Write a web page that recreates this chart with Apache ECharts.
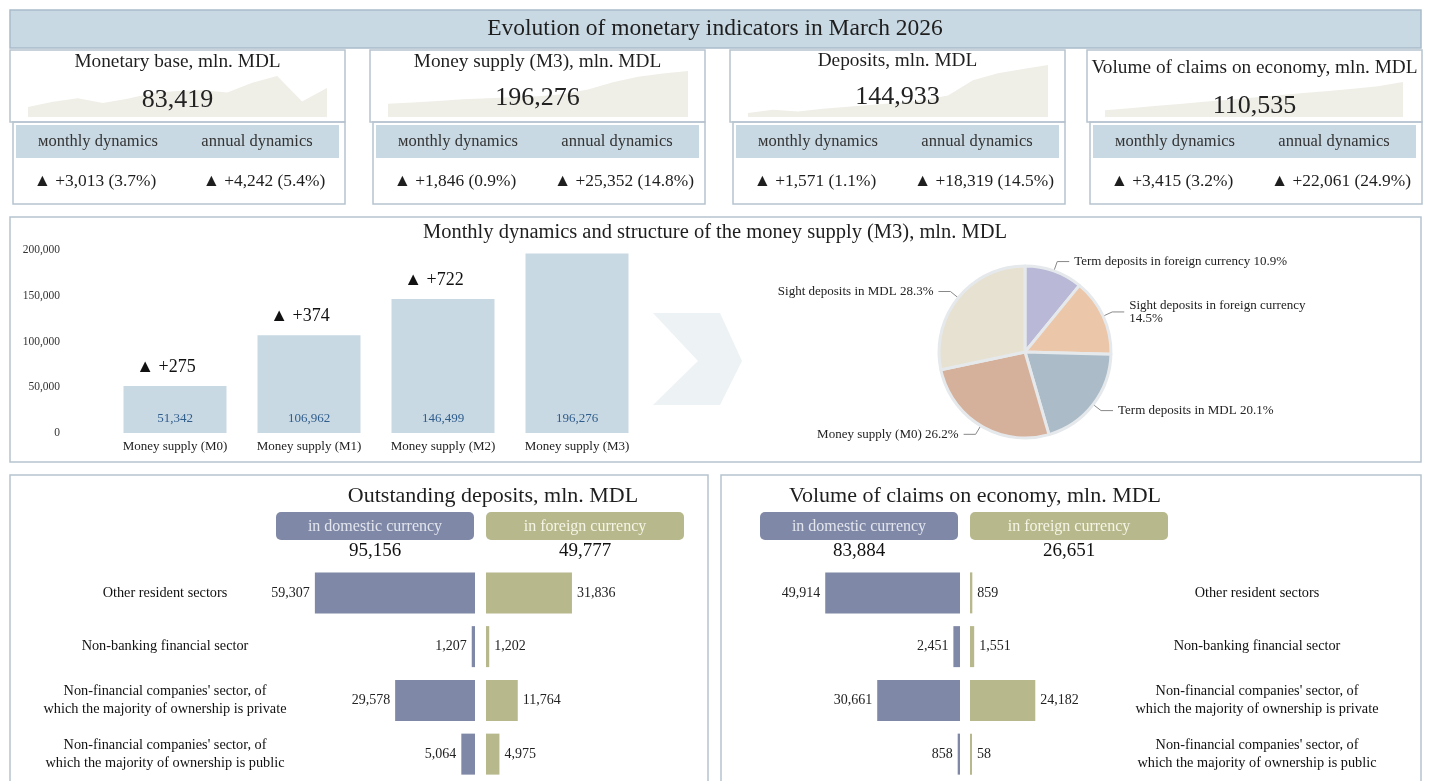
<!DOCTYPE html>
<html><head><meta charset="utf-8">
<script src="https://cdn.jsdelivr.net/npm/echarts@6/dist/echarts.min.js"></script>
<style>html,body{margin:0;padding:0;background:#fff}#c{width:1431px;height:781px}</style>
</head><body><div id="c"></div>
<script>
// ---------------- DATA ----------------
const mainTitle = 'Evolution of monetary indicators in March 2026';
const cardTitles = ['Monetary base, mln. MDL', 'Money supply (M3), mln. MDL', 'Deposits, mln. MDL', 'Volume of claims on economy, mln. MDL'];
const cardValues = [83419, 196276, 144933, 110535];
const monthlyAbs = [3013, 1846, 1571, 3415];
const monthlyPct = [3.7, 0.9, 1.1, 3.2];
const annualAbs = [4242, 25352, 18319, 22061];
const annualPct = [5.4, 14.8, 14.5, 24.9];
const dynHeaders = ['мonthly dynamics', 'annual dynamics'];

const sparkMonths = ['Mar-25','Apr-25','May-25','Jun-25','Jul-25','Aug-25','Sep-25','Oct-25','Nov-25','Dec-25','Jan-26','Feb-26','Mar-26'];
const sparkMonetaryBase = [79177, 80360, 81120, 80070, 81030, 82300, 82750, 82900, 82400, 84600, 86090, 80406, 83419];
const sparkMoneySupply  = [170924, 171900, 173100, 174300, 175100, 175900, 176700, 178300, 181900, 187500, 191900, 194430, 196276];
const sparkDeposits     = [126614, 127780, 127200, 128170, 128950, 129730, 130510, 131490, 133240, 139090, 141820, 143362, 144933];
const sparkClaims       = [88474, 90050, 91820, 93410, 95130, 96740, 98390, 100110, 101850, 103560, 105290, 107120, 110535];
const sparkMins = [76947, 160628, 125054, 83194];

const msTitle = 'Monthly dynamics and structure of the money supply (M3), mln. MDL';
const msCategories = ['Money supply (M0)', 'Money supply (M1)', 'Money supply (M2)', 'Money supply (M3)'];
const msValues = [51342, 106962, 146499, 196276];
const msChanges = [275, 374, 722, null];
const msAxisMax = 200000, msAxisStep = 50000;

const pieNames = ['Term deposits in foreign currency', 'Sight deposits in foreign currency', 'Term deposits in MDL', 'Money supply (M0)', 'Sight deposits in MDL'];
const pieShares = [10.9, 14.5, 20.1, 26.2, 28.3];

const sectors = ['Other resident sectors', 'Non-banking financial sector',
  "Non-financial companies' sector, of\nwhich the majority of ownership is private",
  "Non-financial companies' sector, of\nwhich the majority of ownership is public"];
const depTitle = 'Outstanding deposits, mln. MDL';
const depDomestic = [59307, 1207, 29578, 5064];
const depForeign = [31836, 1202, 11764, 4975];
const depTotals = [95156, 49777];
const claimTitle = 'Volume of claims on economy, mln. MDL';
const claimDomestic = [49914, 2451, 30661, 858];
const claimForeign = [859, 1551, 24182, 58];
const claimTotals = [83884, 26651];
const currencyHeaders = ['in domestic currency', 'in foreign currency'];

// ---------------- STYLE / LAYOUT ----------------
const FF = '"Liberation Serif", "Times New Roman", serif';
const fmt = v => v.toLocaleString('en-US');
const C = {
  band: '#c9d9e3', border: '#b6c3cf', spark: '#efeee7', bar: '#c9d9e3', barLbl: '#2f5d8c',
  chev: '#edf2f5', dom: '#7f88a6', for: '#b7b88c', text: '#1e1e1e',
  pie: ['#b9b8d6', '#ecc6a9', '#abbcc8', '#d5b09b', '#e6e1d1']
};
const g = [];
function rect(x, y, w, h, fill, stroke, r, z) {
  g.push({type: 'rect', z: z || 1, silent: true, shape: {x, y, width: w, height: h, r: r || 0},
    style: {fill: fill || 'none', stroke: stroke || null, lineWidth: stroke ? 1.5 : 0}});
}
function text(x, y, s, size, color, align, z) {
  g.push({type: 'text', z: z || 50, silent: true, x, y,
    style: {text: s, fill: color || C.text, font: size + 'px ' + FF, textAlign: align || 'center', textVerticalAlign: 'middle'}});
}

// title bar
rect(10, 10, 1411, 38, C.band, '#a9bccb');
text(715, 29, mainTitle, 23.5);

// cards
const cardLeft = [10, 370, 730, 1087];
const cardW = 335;
const titleY = [62, 62, 61, 68];
const numY = [100, 98, 97, 106];
const sparkX = [[28, 327], [388, 688], [748, 1048], [1105, 1403]];
const sparkTop = [76, 71, 65, 82];
const sparkSeries = [sparkMonetaryBase, sparkMoneySupply, sparkDeposits, sparkClaims];
for (let i = 0; i < 4; i++) {
  const L = cardLeft[i];
  rect(L, 50, cardW, 72, null, C.border, 0, 0);
  rect(L + 3, 122, cardW - 3, 82, null, C.border, 0, 0);
  rect(L + 6, 125, cardW - 12, 33, C.band, null, 0, 1);
  text(L + cardW / 2, titleY[i], cardTitles[i], 19.3);
  text(L + cardW / 2, numY[i], fmt(cardValues[i]), 26, '#222');
  text(L + 88, 142, dynHeaders[0], 16.5, '#333');
  text(L + 247, 142, dynHeaders[1], 16.5, '#333');
  text(L + 85, 181, '▲ +' + fmt(monthlyAbs[i]) + ' (' + monthlyPct[i].toFixed(1) + '%)', 17.4);
  text(L + 254, 181, '▲ +' + fmt(annualAbs[i]) + ' (' + annualPct[i].toFixed(1) + '%)', 17.4);
}

// section 2
rect(10, 217, 1411, 245, null, C.border, 0, 0);
text(715, 233, msTitle, 20.5);
g.push({type: 'polygon', z: 0, silent: true, shape: {points: [[653, 313], [720, 313], [742, 361], [720, 405], [653, 405], [698, 361]]}, style: {fill: C.chev}});

// section 3
rect(10, 475, 698, 320, null, C.border, 0, 0);
rect(721, 475, 700, 320, null, C.border, 0, 0);
text(493, 496, depTitle, 22);
text(975, 496, claimTitle, 22);
function headers(xd, xf, totals) {
  rect(xd, 512, 198, 28, C.dom, null, 5);
  rect(xf, 512, 198, 28, C.for, null, 5);
  text(xd + 99, 527, currencyHeaders[0], 16, '#e3e6ee');
  text(xf + 99, 527, currencyHeaders[1], 16, '#f5f5e6');
  text(xd + 99, 551, fmt(totals[0]), 19, '#111');
  text(xf + 99, 551, fmt(totals[1]), 19, '#111');
}
headers(276, 486, depTotals);
headers(760, 970, claimTotals);

// ---------------- CHART ----------------
const grid = [], xAxis = [], yAxis = [], series = [];
// sparklines 0..3
for (let i = 0; i < 4; i++) {
  grid.push({left: sparkX[i][0], width: sparkX[i][1] - sparkX[i][0], top: sparkTop[i], height: 117 - sparkTop[i]});
  xAxis.push({gridIndex: i, type: 'category', data: sparkMonths, boundaryGap: false, show: false});
  yAxis.push({gridIndex: i, type: 'value', min: sparkMins[i], max: 'dataMax', show: false});
  series.push({type: 'line', xAxisIndex: i, yAxisIndex: i, data: sparkSeries[i], symbol: 'none', silent: true, z: 2,
    lineStyle: {width: 0}, areaStyle: {color: C.spark, opacity: 1}});
}
// money supply bars (grid 4)
grid.push({left: 108, width: 536, top: 250, height: 183});
xAxis.push({gridIndex: 4, type: 'category', data: msCategories, axisLine: {show: false}, axisTick: {show: false}, z: 10,
  axisLabel: {fontFamily: FF, fontSize: 13, color: '#222', margin: 7, interval: 0}});
yAxis.push({gridIndex: 4, type: 'value', min: 0, max: msAxisMax, interval: msAxisStep, splitLine: {show: false}, z: 10,
  axisLine: {show: false}, axisTick: {show: false},
  axisLabel: {fontFamily: FF, fontSize: 11.5, color: '#333', margin: 48, formatter: v => fmt(v)}});
series.push({type: 'bar', xAxisIndex: 4, yAxisIndex: 4, data: msValues, barWidth: 103, itemStyle: {color: C.bar},
  label: {show: true, position: 'insideBottom', distance: 8, color: C.barLbl, fontFamily: FF, fontSize: 13, formatter: p => fmt(p.value)}});
series.push({type: 'bar', xAxisIndex: 4, yAxisIndex: 4, data: msValues, barWidth: 103, barGap: '-100%', silent: true,
  itemStyle: {color: 'rgba(0,0,0,0)'},
  label: {show: true, position: 'top', distance: 10, offset: [-9, 0], color: '#111', fontFamily: FF, fontSize: 18,
    formatter: p => msChanges[p.dataIndex] == null ? '' : '▲ +' + fmt(msChanges[p.dataIndex])}});
// pie
series.push({type: 'pie', center: [1025, 352], radius: 86, startAngle: 90, clockwise: true, silent: true,
  itemStyle: {borderColor: '#e6e9ec', borderWidth: 3},
  label: {fontFamily: FF, fontSize: 13, color: '#222', formatter: p => p.name + ' ' + p.value.toFixed(1) + '%'},
  labelLine: {length: 10, length2: 12, lineStyle: {color: '#888', width: 1}},
  data: pieNames.map((n, i) => {
    const d = {name: n, value: pieShares[i], itemStyle: {color: C.pie[i]}};
    if (i === 1) d.label = {formatter: p => p.name + '\n' + p.value.toFixed(1) + '%'};
    return d;
  })});
// bottom horizontal bars: grids 5..8
const hb = [
  {left: 259, inv: true, data: depDomestic, color: C.dom, labelPos: 'left', cat: 'left'},
  {left: 486, inv: false, data: depForeign, color: C.for, labelPos: 'right', cat: null},
  {left: 744, inv: true, data: claimDomestic, color: C.dom, labelPos: 'left', cat: null},
  {left: 970, inv: false, data: claimForeign, color: C.for, labelPos: 'right', cat: 'right'}
];
hb.forEach((h, k) => {
  const gi = 5 + k;
  grid.push({left: h.left, width: 216, top: 566, height: 216});
  xAxis.push({gridIndex: gi, type: 'value', min: 0, max: 80000, inverse: h.inv, show: false});
  yAxis.push({gridIndex: gi, type: 'category', data: sectors, inverse: true, position: h.cat === 'right' ? 'right' : 'left', z: 10,
    show: !!h.cat,
    axisLine: {show: false, onZero: false}, axisTick: {show: false}, splitLine: {show: false},
    axisLabel: {show: !!h.cat, interval: 0, align: 'center', margin: h.cat === 'right' ? 71 : 94, padding: [4, 0, 0, 0],
      fontFamily: FF, fontSize: 14.3, lineHeight: 17.5, color: '#111'}});
  series.push({type: 'bar', xAxisIndex: gi, yAxisIndex: gi, data: h.data, barWidth: 41, barMinHeight: 2, silent: true,
    itemStyle: {color: h.color},
    label: {show: true, position: h.labelPos, distance: 5, fontFamily: FF, fontSize: 14, color: '#222', formatter: p => fmt(p.value)}});
});

const chart = echarts.init(document.getElementById('c'), null, {renderer: 'canvas'});
chart.setOption({animation: false, backgroundColor: '#fff', graphic: {elements: g}, grid, xAxis, yAxis, series});
</script></body></html>
